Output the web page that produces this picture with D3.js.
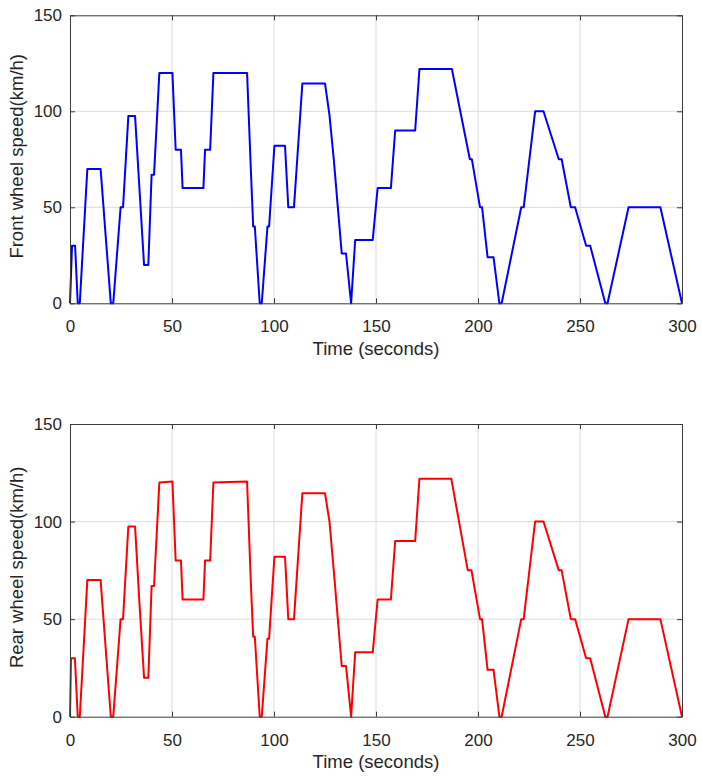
<!DOCTYPE html>
<html>
<head>
<meta charset="utf-8">
<script src="https://cdn.jsdelivr.net/npm/d3@7"></script>
<style>
  html, body { margin: 0; padding: 0; background: #fff; }
  svg { display: block; }
  text { font-family: "Liberation Sans", Arial, sans-serif; fill: #262626; }
</style>
</head>
<body>
<svg id="chart" width="702" height="779"></svg>
<script>
// ---- data ----
const frontTime  = [0,1,2.5,3.8,4.8,8.5,15,20,21.2,24.8,26,28.6,31.9,36.3,38.4,40,41.2,43.8,50.2,51.8,54.4,55.2,65.4,66.2,68.7,70.3,86.8,88.6,89.8,90.6,93,94,96.8,97.6,100.2,105.4,107,109.8,113.9,125,127.2,129.3,133.2,135.3,137.8,139.8,148.4,150.8,157.3,159.4,169.2,171.3,187.2,196,197,201,202,204.7,207.6,210.5,211.6,221.2,222.4,228,232.1,239.6,241,245.5,247.6,253,255,262.4,263.5,273.8,289.4,300];
const frontSpeed = [0,30,30,0,0,70,70,0,0,50,50,97.5,97.5,20,20,67,67,120,120,80,80,60,60,80,80,120,120,71,40,40,0,0,40,40,82,82,50,50,114.5,114.5,98,75,26,26,0,33,33,60,60,90,90,122,122,75,75,50,50,24,24,0,0,50,50,100,100,75,75,50,50,30,30,0,0,50,50,0];

const rearTime  = [0,0.5,2.4,3.8,4.8,8.5,15,20,21.2,24.8,26,28.6,31.9,34,36.3,38.4,40,41.2,43.8,50.2,51.8,54.4,55.2,65.4,66.2,68.7,70.3,86.8,88.6,89.8,90.6,93,94,96.8,97.6,100.2,105.4,107,109.8,113.9,125,127.2,129.3,133.2,135.3,137.8,139.8,148.4,150.8,157.3,159.4,169.2,171.3,186.9,195,196.8,201,202,204.7,207.6,210.5,211.6,221.2,222.4,228,232.1,239.6,241,245.5,247.6,253,255,262.4,263.5,273.8,289.4,300];
const rearSpeed = [0,30,30,0,0,70,70,0,0,50,50,97.5,97.5,59,20,20,67,67,120,120.5,80,80,60,60,80,80,120,120.5,70,41,41,0,0,40,40,82,82,50,50,114.5,114.5,100,75,26,26,0,33,33,60,60,90,90,122,122,75,75,50,50,24,24,0,0,50,50,100,100,75,75,50,50,30,30,0,0,50,50,0];

const xTicks = [0,50,100,150,200,250,300];
const yTicks = [0,50,100,150];
const xLabel = "Time (seconds)";
const frontLabel = "Front wheel speed(km/h)";
const rearLabel  = "Rear wheel speed(km/h)";

const svg = d3.select("#chart");

function panel(cfg) {
  const {left, right, top, bottom, times, speeds, color, ylabel} = cfg;
  const x = d3.scaleLinear().domain([0, 300]).range([left, right]);
  const y = d3.scaleLinear().domain([0, 150]).range([bottom, top]);
  const g = svg.append("g");

  // grid
  g.append("g").selectAll("line").data(xTicks.slice(1, -1)).join("line")
    .attr("x1", d => x(d)).attr("x2", d => x(d))
    .attr("y1", top).attr("y2", bottom)
    .attr("stroke", "#dcdcdc").attr("stroke-width", 1);
  g.append("g").selectAll("line").data(yTicks.slice(1, -1)).join("line")
    .attr("y1", d => y(d)).attr("y2", d => y(d))
    .attr("x1", left).attr("x2", right)
    .attr("stroke", "#dcdcdc").attr("stroke-width", 1);

  // data line
  const pts = times.map((t, i) => [t, speeds[i]]);
  g.append("path").datum(pts)
    .attr("fill", "none")
    .attr("stroke", color)
    .attr("stroke-width", 2)
    .attr("stroke-linejoin", "round")
    .attr("d", d3.line().x(d => x(d[0])).y(d => y(d[1])));

  // axes (inward ticks)
  const ax = g.append("g").attr("transform", `translate(0,${bottom})`)
    .call(d3.axisBottom(x).tickValues(xTicks).tickSizeInner(-5).tickSizeOuter(0).tickPadding(17));
  const ay = g.append("g").attr("transform", `translate(${left},0)`)
    .call(d3.axisLeft(y).tickValues(yTicks).tickSizeInner(-5).tickSizeOuter(0).tickPadding(8));
  const at = g.append("g").attr("transform", `translate(0,${top})`)
    .call(d3.axisTop(x).tickValues(xTicks).tickSizeInner(-5).tickSizeOuter(0).tickFormat(""));
  const ar = g.append("g").attr("transform", `translate(${right},0)`)
    .call(d3.axisRight(y).tickValues(yTicks).tickSizeInner(-5).tickSizeOuter(0).tickFormat(""));
  [ax, ay, at, ar].forEach(a => {
    a.selectAll("path.domain").attr("stroke", "#3a3a3a").attr("stroke-width", 1);
    a.selectAll(".tick line").attr("stroke", "#3a3a3a");
    a.selectAll("text").attr("font-size", "17px")
      .attr("font-family", "'Liberation Sans', Arial, sans-serif").attr("fill", "#262626");
  });

  // labels
  g.append("text")
    .attr("x", (left + right) / 2).attr("y", bottom + 51.5)
    .attr("text-anchor", "middle").attr("font-size", "18.5px")
    .text(xLabel);
  g.append("text")
    .attr("transform", `translate(${23},${(top + bottom) / 2 - 3}) rotate(-90)`)
    .attr("text-anchor", "middle").attr("font-size", "18.5px")
    .text(ylabel);
}

panel({left: 70, right: 682, top: 15.3, bottom: 303.3,
       times: frontTime, speeds: frontSpeed, color: "#0000ff", ylabel: frontLabel});
panel({left: 70, right: 682, top: 424, bottom: 716.7,
       times: rearTime, speeds: rearSpeed, color: "#ff0000", ylabel: rearLabel});
</script>
</body>
</html>
